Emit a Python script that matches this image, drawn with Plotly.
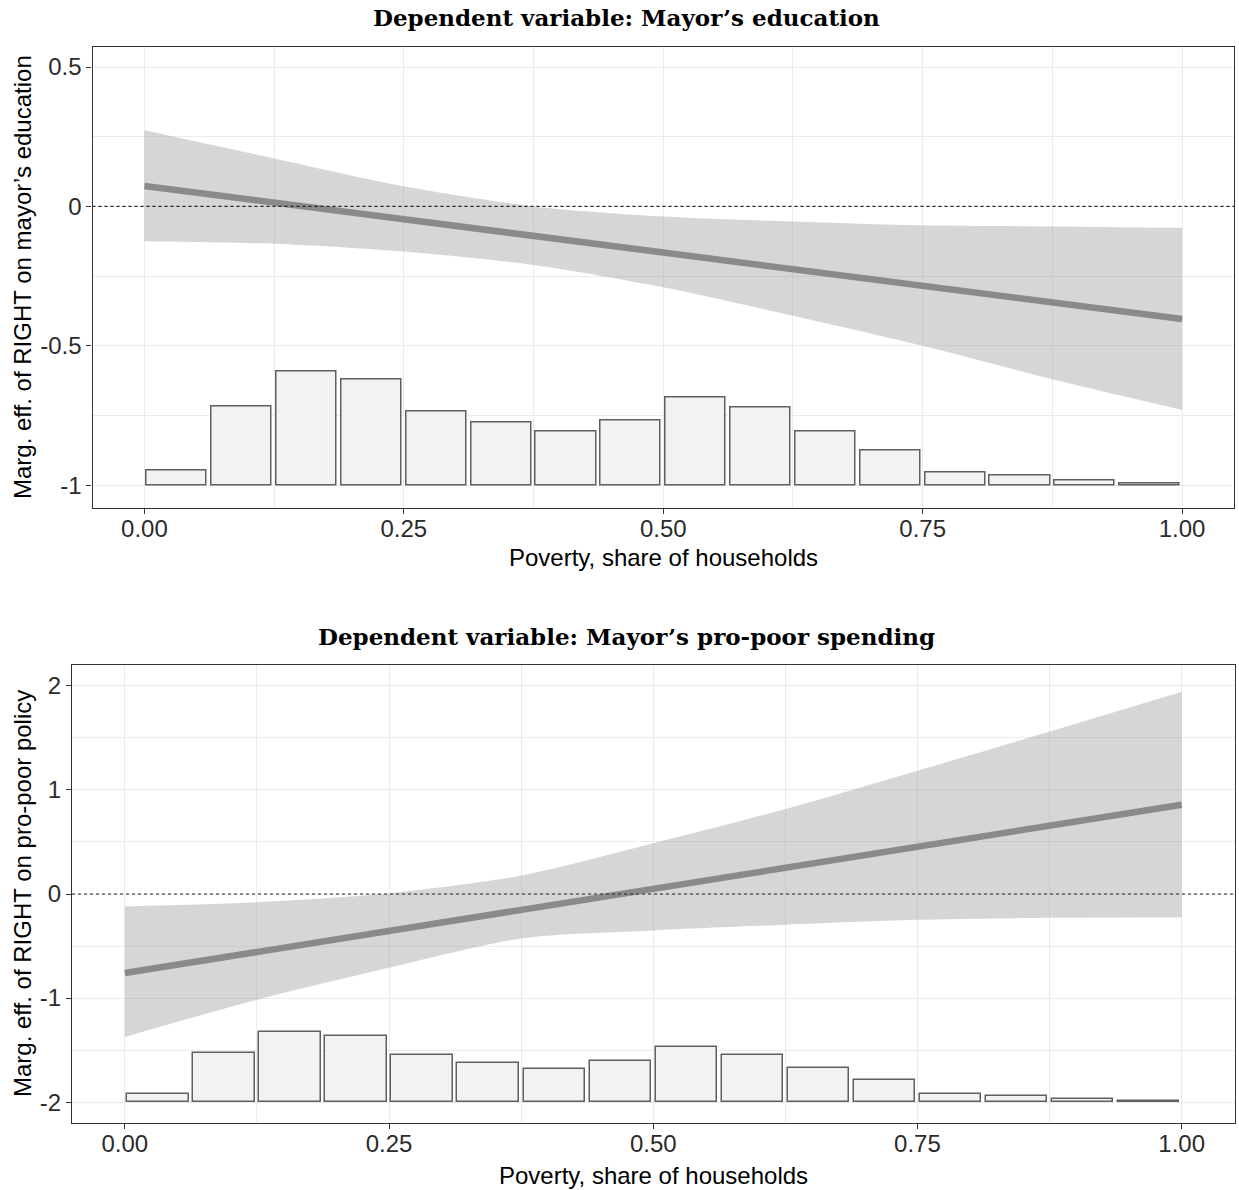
import plotly.graph_objects as go

# ---- data ----------------------------------------------------------------
poverty_grid = [0.0, 0.125, 0.25, 0.375, 0.5, 0.625, 0.75, 0.875, 1.0]

# Panel 1: mayor's education
edu_effect = [0.073, 0.013, -0.047, -0.107, -0.166, -0.226, -0.285, -0.345, -0.404]
edu_upper = [0.273, 0.172, 0.072, 0.000, -0.036, -0.054, -0.068, -0.072, -0.077]
edu_lower = [-0.125, -0.134, -0.162, -0.210, -0.290, -0.392, -0.500, -0.620, -0.730]

# Panel 2: pro-poor spending
spend_effect = [-0.759, -0.557, -0.356, -0.155, 0.047, 0.249, 0.450, 0.652, 0.858]
spend_upper = [-0.120, -0.079, 0.008, 0.177, 0.487, 0.816, 1.184, 1.561, 1.944]
spend_lower = [-1.373, -1.015, -0.708, -0.427, -0.350, -0.295, -0.248, -0.229, -0.223]

# Histogram of poverty (16 bins of width 1/16), bar heights in axis units
bin_centers = [(i + 0.5) / 16 for i in range(16)]
edu_hist = [0.051, 0.282, 0.406, 0.378, 0.265, 0.225, 0.192, 0.231,
            0.315, 0.277, 0.193, 0.126, 0.045, 0.035, 0.018, 0.006]
spend_hist = [0.080, 0.470, 0.677, 0.636, 0.453, 0.380, 0.316, 0.396,
              0.527, 0.456, 0.332, 0.214, 0.080, 0.063, 0.035, 0.012]

x_ticks = [0.0, 0.25, 0.5, 0.75, 1.0]
x_ticklabels = ["0.00", "0.25", "0.50", "0.75", "1.00"]
edu_yticks = [-1, -0.5, 0, 0.5]
edu_yticklabels = ["-1", "-0.5", "0", "0.5"]
spend_yticks = [-2, -1, 0, 1, 2]
spend_yticklabels = ["-2", "-1", "0", "1", "2"]

titles = ["Dependent variable: Mayor’s education",
          "Dependent variable: Mayor’s pro-poor spending"]
x_title = "Poverty, share of households"
y_titles = ["Marg. eff. of RIGHT on mayor’s education",
            "Marg. eff. of RIGHT on pro-poor policy"]

# ---- figure --------------------------------------------------------------
W, H = 1239, 1190
BAND = "rgba(153,153,153,0.4)"
LINE = "rgb(138,138,138)"
GRID = "#ebebeb"
FRAME = "#333333"
SANS = "Liberation Sans, Arial, sans-serif"
SERIF = "DejaVu Serif, serif"
FS = 24

fig = go.Figure()

panels = [
    dict(xa="x", ya="y", eff=edu_effect, up=edu_upper, lo=edu_lower,
         hist=edu_hist, base=-1),
    dict(xa="x2", ya="y2", eff=spend_effect, up=spend_upper, lo=spend_lower,
         hist=spend_hist, base=-2),
]

for p in panels:
    fig.add_trace(go.Bar(
        x=bin_centers, y=p["hist"], base=p["base"], width=0.058,
        marker=dict(color="#f2f2f2", line=dict(color="#5f5f5f", width=1.5)),
        xaxis=p["xa"], yaxis=p["ya"], showlegend=False, hoverinfo="skip"))
    fig.add_trace(go.Scatter(
        x=poverty_grid, y=p["lo"], mode="lines",
        line=dict(width=0, shape="spline", smoothing=0.8),
        xaxis=p["xa"], yaxis=p["ya"], showlegend=False, hoverinfo="skip"))
    fig.add_trace(go.Scatter(
        x=poverty_grid, y=p["up"], mode="lines",
        line=dict(width=0, shape="spline", smoothing=0.8),
        fill="tonexty", fillcolor=BAND,
        xaxis=p["xa"], yaxis=p["ya"], showlegend=False, hoverinfo="skip"))
    fig.add_trace(go.Scatter(
        x=poverty_grid, y=p["eff"], mode="lines",
        line=dict(color=LINE, width=6.5),
        xaxis=p["xa"], yaxis=p["ya"], showlegend=False, hoverinfo="skip"))
    # reference line at zero
    fig.add_shape(type="line", xref=p["xa"] + " domain", yref=p["ya"],
                  x0=0, x1=1, y0=0, y1=0, layer="above",
                  line=dict(color="#222222", width=1.2, dash="dot"))

axis_common = dict(
    showline=True, mirror=True, linecolor=FRAME, linewidth=1.3,
    ticks="outside", ticklen=5, tickcolor=FRAME, tickwidth=1.2,
    showgrid=True, gridcolor=GRID, gridwidth=1.2, zeroline=False,
    tickfont=dict(family=SANS, size=FS, color="#2b2b2b"),
    tickmode="array",
)

# plot-area domains in paper coordinates
top_x = [92.5 / W, 1234 / W]
top_y = [1 - 508 / H, 1 - 46.5 / H]
bot_x = [72 / W, 1234.5 / W]
bot_y = [1 - 1123 / H, 1 - 665 / H]

minor_x = dict(dtick=0.125, tick0=0, showgrid=True, gridcolor=GRID, gridwidth=1.2)

fig.update_layout(
    width=W, height=H, margin=dict(l=0, r=0, t=0, b=0),
    paper_bgcolor="white", plot_bgcolor="white", bargap=0,
    xaxis=dict(axis_common, domain=top_x, range=[-0.05, 1.05],
               tickvals=x_ticks, ticktext=x_ticklabels, anchor="y",
               ticklabelstandoff=-6, minor=minor_x),
    yaxis=dict(axis_common, domain=top_y, range=[-1.082, 0.5736],
               tickvals=edu_yticks, ticktext=edu_yticklabels, anchor="x",
               minor=dict(dtick=0.25, tick0=0, showgrid=True,
                          gridcolor=GRID, gridwidth=1.2)),
    xaxis2=dict(axis_common, domain=bot_x, range=[-0.05, 1.05],
                tickvals=x_ticks, ticktext=x_ticklabels, anchor="y2",
                ticklabelstandoff=-6, minor=minor_x),
    yaxis2=dict(axis_common, domain=bot_y, range=[-2.2, 2.2],
                tickvals=spend_yticks, ticktext=spend_yticklabels, anchor="x2",
                minor=dict(dtick=0.5, tick0=0, showgrid=True,
                           gridcolor=GRID, gridwidth=1.2)),
)

# titles and axis labels
ann = []
for title, ty in zip(titles, [18, 636]):
    ann.append(dict(text=f"<b>{title}</b>", xref="paper", yref="paper",
                    x=626 / W, y=1 - ty / H, showarrow=False,
                    xanchor="center", yanchor="middle",
                    font=dict(family=SERIF, size=23, color="black")))
for cx, cy in [((top_x[0] + top_x[1]) / 2, 557), ((bot_x[0] + bot_x[1]) / 2, 1175)]:
    ann.append(dict(text=x_title, xref="paper", yref="paper",
                    x=cx, y=1 - cy / H, showarrow=False,
                    xanchor="center", yanchor="middle",
                    font=dict(family=SANS, size=FS, color="black")))
for yt, cy in zip(y_titles, [277, 894]):
    ann.append(dict(text=yt, xref="paper", yref="paper", textangle=-90,
                    x=22 / W, y=1 - cy / H, showarrow=False,
                    xanchor="center", yanchor="middle",
                    font=dict(family=SANS, size=FS, color="black")))
fig.update_layout(annotations=ann)

fig.write_html("out.html")
